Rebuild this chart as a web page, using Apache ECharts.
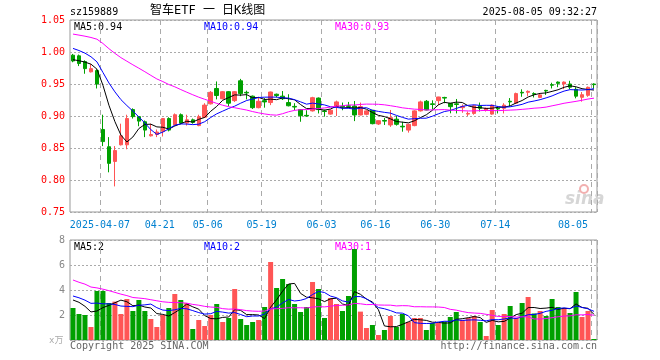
<!DOCTYPE html>
<html><head><meta charset="utf-8">
<script src="https://cdn.jsdelivr.net/npm/echarts@6/dist/echarts.min.js"></script>
<style>html,body{margin:0;padding:0;background:#fff}#c{width:660px;height:360px}</style>
</head><body><div id="c"></div>
<script>
// ---------- data ----------
const dates = [
 '2025-03-28','2025-03-31',
 '2025-04-01','2025-04-02','2025-04-03','2025-04-07','2025-04-08','2025-04-09','2025-04-10','2025-04-11',
 '2025-04-14','2025-04-15','2025-04-16','2025-04-17','2025-04-18','2025-04-21','2025-04-22','2025-04-23',
 '2025-04-24','2025-04-25','2025-04-28','2025-04-29','2025-04-30',
 '2025-05-06','2025-05-07','2025-05-08','2025-05-09','2025-05-12','2025-05-13','2025-05-14','2025-05-15',
 '2025-05-16','2025-05-19','2025-05-20','2025-05-21','2025-05-22','2025-05-23','2025-05-26','2025-05-27',
 '2025-05-28','2025-05-29','2025-05-30',
 '2025-06-03','2025-06-04','2025-06-05','2025-06-06','2025-06-09','2025-06-10','2025-06-11','2025-06-12',
 '2025-06-13','2025-06-16','2025-06-17','2025-06-18','2025-06-19','2025-06-20','2025-06-23','2025-06-24',
 '2025-06-25','2025-06-26','2025-06-27','2025-06-30',
 '2025-07-01','2025-07-02','2025-07-03','2025-07-04','2025-07-07','2025-07-08','2025-07-09','2025-07-10',
 '2025-07-11','2025-07-14','2025-07-15','2025-07-16','2025-07-17','2025-07-18','2025-07-21','2025-07-22',
 '2025-07-23','2025-07-24','2025-07-25','2025-07-28','2025-07-29','2025-07-30','2025-07-31',
 '2025-08-01','2025-08-04','2025-08-05'
];
const opens = [
 0.995,0.994,0.985,0.969,0.971,0.879,0.852,0.829,0.855,0.855,
 0.910,0.899,0.891,0.869,0.871,0.876,0.896,0.886,0.902,0.889,
 0.894,0.885,0.898,0.919,0.943,0.927,0.938,0.924,0.955,0.937,
 0.931,0.913,0.924,0.921,0.934,0.931,0.921,0.915,0.910,0.901,
 0.908,0.928,0.908,0.903,0.9146,0.915,0.916,0.9156,0.9016,0.9026,
 0.909,0.8875,0.893,0.886,0.895,0.884,0.878,0.885,0.908,0.923,
 0.919,0.924,0.929,0.9198,0.919,0.913,0.903,0.904,0.916,0.909,
 0.903,0.912,0.912,0.923,0.920,0.937,0.937,0.935,0.929,0.940,
 0.949,0.953,0.950,0.950,0.9417,0.9292,0.9323,0.950
];
const closes = [
 0.986,0.982,0.974,0.974,0.950,0.860,0.826,0.846,0.869,0.896,
 0.899,0.892,0.878,0.871,0.875,0.896,0.878,0.902,0.889,0.894,
 0.890,0.899,0.917,0.937,0.932,0.938,0.920,0.938,0.935,0.936,
 0.913,0.923,0.922,0.9375,0.932,0.927,0.916,0.914,0.9005,0.900,
 0.9286,0.910,0.907,0.909,0.922,0.914,0.915,0.9016,0.9146,0.908,
 0.888,0.8927,0.892,0.8974,0.887,0.883,0.887,0.908,0.922,0.9094,
 0.918,0.9297,0.928,0.9146,0.918,0.915,0.904,0.916,0.912,0.912,
 0.917,0.911,0.917,0.922,0.935,0.936,0.9385,0.934,0.933,0.939,
 0.948,0.951,0.953,0.945,0.931,0.9333,0.9448,0.949
];
const lows = [
 0.984,0.978,0.966,0.968,0.943,0.853,0.812,0.790,0.854,0.848,
 0.896,0.884,0.867,0.868,0.867,0.868,0.876,0.886,0.887,0.885,
 0.888,0.884,0.897,0.918,0.926,0.926,0.915,0.922,0.931,0.926,
 0.911,0.912,0.913,0.917,0.929,0.925,0.915,0.909,0.891,0.899,
 0.907,0.904,0.899,0.902,0.900,0.909,0.912,0.892,0.901,0.901,
 0.887,0.886,0.886,0.883,0.885,0.8755,0.874,0.884,0.907,0.909,
 0.9104,0.917,0.920,0.9042,0.904,0.905,0.900,0.902,0.907,0.907,
 0.902,0.904,0.904,0.915,0.919,0.930,0.931,0.929,0.928,0.933,
 0.943,0.945,0.942,0.942,0.9276,0.9224,0.930,0.943
];
const highs = [
 0.997,0.996,0.987,0.981,0.973,0.902,0.867,0.853,0.888,0.902,
 0.912,0.900,0.893,0.888,0.879,0.897,0.898,0.904,0.904,0.902,
 0.896,0.902,0.920,0.939,0.954,0.939,0.939,0.939,0.958,0.9396,
 0.932,0.930,0.928,0.938,0.935,0.939,0.934,0.920,0.910,0.909,
 0.930,0.929,0.910,0.910,0.924,0.921,0.922,0.9234,0.921,0.909,
 0.909,0.893,0.897,0.9094,0.900,0.891,0.888,0.909,0.924,0.925,
 0.9245,0.930,0.930,0.920,0.9266,0.918,0.907,0.917,0.921,0.913,
 0.918,0.915,0.920,0.928,0.9365,0.9417,0.940,0.937,0.935,0.941,
 0.952,0.954,0.954,0.955,0.945,0.9375,0.946,0.951
];
const volumes = [
 2.56,2.08,2.0,1.04,3.92,3.92,2.96,3.07,2.08,3.28,
 2.32,3.2,2.32,1.68,1.04,2.0,2.56,3.68,3.2,2.96,
 0.88,1.6,1.12,2.0,2.88,1.44,1.76,4.08,1.68,1.2,
 1.44,1.6,2.64,6.24,4.16,4.88,4.48,2.88,2.24,2.64,
 4.64,4.08,1.76,3.36,2.88,2.32,3.52,7.28,2.27,0.96,
 1.2,0.4,0.8,1.92,1.04,2.08,1.44,1.76,1.76,0.8,
 1.36,1.36,1.48,1.84,2.24,1.6,1.76,1.92,1.44,0.32,
 2.4,1.2,2.08,2.72,1.76,2.96,3.44,2.12,2.32,1.92,
 3.28,2.64,2.52,2.16,3.84,1.84,2.32,0.08
];
// closes / volumes before the visible window (estimated from where the MA lines start)
const priorCloses = [
 1.03,1.025,1.035,1.03,
 1.06,1.07,1.065,1.07,1.065,1.066,
 1.05,1.045,1.04,1.043,
 1.02,1.015,1.01,1.02,1.015,1.01,1.015,1.015,
 1.03,1.03,1.026,
 0.99,0.985,0.99,0.989
];
const priorVolumes = [
 7.5,6.5,8.0,6.0,7.0,6.5,7.2,6.3,6.8,6.9,
 4.5,3.8,4.2,3.6,4.4,3.9,4.1,3.7,4.0,3.9,
 3.5,3.9,3.6,3.7,4.5,
 3.0,3.6,3.3,3.54
];
const xLabelDates = ['2025-04-07','2025-04-21','2025-05-06','2025-05-19','2025-06-03','2025-06-16','2025-06-30','2025-07-14','2025-08-05'];
const priceTicks = {min:0.75, max:1.05, step:0.05};
const volTicks = {min:0, max:8, step:2};
const titleText = '智车ETF 一 日K线图';
const codeText = 'sz159889';
const timeText = '2025-08-05 09:32:27';
const maLabels = ['MA5:0.94','MA10:0.94','MA30:0.93'];
const volMaLabels = ['MA5:2','MA10:2','MA30:1'];

// ---------- helpers ----------
function movingAvg(n, vals, prior) {
  const all = prior.concat(vals);
  const off = prior.length;
  return vals.map((_, i) => {
    const end = off + i;
    const start = end - n + 1;
    if (start < 0) return '-';
    let s = 0;
    for (let k = start; k <= end; k++) s += all[k];
    return +(s / n).toFixed(4);
  });
}
const RED = '#ff5555', GREEN = '#00a000';
const MONO = "'DejaVu Sans Mono', 'Liberation Mono', monospace";
const labelSet = new Set(xLabelDates);

const candleData = dates.map((d, i) => [opens[i], closes[i], lows[i], highs[i]]);
const volData = volumes.map((v, i) => ({
  value: v,
  itemStyle: { color: closes[i] >= opens[i] ? RED : GREEN }
}));

const ma5 = movingAvg(5, closes, priorCloses);
const ma10 = movingAvg(10, closes, priorCloses);
const ma30 = movingAvg(30, closes, priorCloses);
const vma5 = movingAvg(5, volumes, priorVolumes);
const vma10 = movingAvg(10, volumes, priorVolumes);
const vma30 = movingAvg(30, volumes, priorVolumes);

function lineSeries(data, color, xi, yi) {
  return { type:'line', data, xAxisIndex:xi, yAxisIndex:yi, showSymbol:false, symbol:'none',
    silent:true, lineStyle:{ color, width:1 }, z:5 };
}
const splitInterval = (idx, val) => labelSet.has(dates[idx]);
const dashStyle = { color:'#aaaaaa', type:[5,4], width:1 };
const dotStyle = { color:'#aaaaaa', type:[2,2], width:1 };

const chart = echarts.init(document.getElementById('c'), null, { renderer:'canvas' });
chart.setOption({
  animation:false,
  backgroundColor:'#ffffff',
  grid:[
    { left:70, top:20, width:527, height:192, show:true, borderColor:'#999', borderWidth:1 },
    { left:70, top:240, width:527, height:100, show:true, borderColor:'#999', borderWidth:1 }
  ],
  xAxis:[
    { type:'category', gridIndex:0, data:dates, boundaryGap:true,
      axisLine:{ show:false }, axisTick:{ show:false },
      axisLabel:{ interval:splitInterval, color:'#0080d0', fontFamily:MONO, fontSize:10, margin:8,
        padding:[0,6,0,0], alignMaxLabel:'right',
        formatter:(v) => v === xLabelDates[0] ? v : v.slice(5) },
      splitLine:{ show:true, interval:splitInterval, lineStyle:dashStyle } },
    { type:'category', gridIndex:1, data:dates, boundaryGap:true,
      axisLine:{ show:false }, axisTick:{ show:false }, axisLabel:{ show:false },
      splitLine:{ show:true, interval:splitInterval, lineStyle:dashStyle } }
  ],
  yAxis:[
    { type:'value', gridIndex:0, min:priceTicks.min, max:priceTicks.max, interval:priceTicks.step,
      axisLine:{ show:false }, axisTick:{ show:false },
      axisLabel:{ color:'#ff0000', fontFamily:MONO, fontSize:10, margin:5, formatter:(v) => v.toFixed(2) },
      splitLine:{ show:true, lineStyle:dotStyle } },
    { type:'value', gridIndex:1, min:volTicks.min, max:volTicks.max, interval:volTicks.step,
      axisLine:{ show:false }, axisTick:{ show:false },
      axisLabel:{ color:'#888', fontFamily:MONO, fontSize:10, margin:5, formatter:(v) => v === 0 ? '' : String(v) },
      splitLine:{ show:true, lineStyle:dotStyle } }
  ],
  series:[
    { type:'candlestick', xAxisIndex:0, yAxisIndex:0, data:candleData, barWidth:4,
      itemStyle:{ color:RED, color0:GREEN, borderColor:RED, borderColor0:GREEN, borderWidth:1 }, z:3 },
    lineSeries(ma5, '#000000', 0, 0),
    lineSeries(ma10, '#0000ff', 0, 0),
    lineSeries(ma30, '#ff00ff', 0, 0),
    { type:'bar', xAxisIndex:1, yAxisIndex:1, data:volData, barWidth:5, silent:true, z:3 },
    lineSeries(vma5, '#000000', 1, 1),
    lineSeries(vma10, '#0000ff', 1, 1),
    lineSeries(vma30, '#ff00ff', 1, 1)
  ],
  graphic:[
    { type:'text', left:70, top:7, style:{ text:codeText, font:'10px '+MONO, fill:'#000' } },
    { type:'text', left:150, top:5, style:{ text:titleText, font:"12px 'DejaVu Sans Mono', 'Noto Sans CJK SC', monospace", fill:'#000' } },
    { type:'text', right:63, top:7, style:{ text:timeText, font:'10px '+MONO, fill:'#000' } },
    { type:'text', left:74, top:22, style:{ text:maLabels[0], font:'10px '+MONO, fill:'#000' } },
    { type:'text', left:204, top:22, style:{ text:maLabels[1], font:'10px '+MONO, fill:'#0000ff' } },
    { type:'text', left:335, top:22, style:{ text:maLabels[2], font:'10px '+MONO, fill:'#ff00ff' } },
    { type:'text', left:74, top:242, style:{ text:volMaLabels[0], font:'10px '+MONO, fill:'#000' } },
    { type:'text', left:204, top:242, style:{ text:volMaLabels[1], font:'10px '+MONO, fill:'#0000ff' } },
    { type:'text', left:335, top:242, style:{ text:volMaLabels[2], font:'10px '+MONO, fill:'#ff00ff' } },
    { type:'text', left:49, top:336, style:{ text:'x万', font:"9px 'DejaVu Sans Mono', 'Noto Sans CJK SC', monospace", fill:'#aaa' } },
    { type:'text', left:70, top:341, style:{ text:'Copyright 2025 SINA.COM', font:'10px '+MONO, fill:'#666' } },
    { type:'text', right:63, top:341, style:{ text:'http://finance.sina.com.cn', font:'10px '+MONO, fill:'#666' } },
    { type:'text', left:565, top:191, style:{ text:'sina', font:"italic bold 17px 'DejaVu Sans', sans-serif", fill:'#d6d6d6' } },
    { type:'circle', shape:{ cx:584, cy:189, r:4 }, style:{ fill:'none', stroke:'#f2b0b0', lineWidth:2 } }
  ]
});
</script></body></html>
